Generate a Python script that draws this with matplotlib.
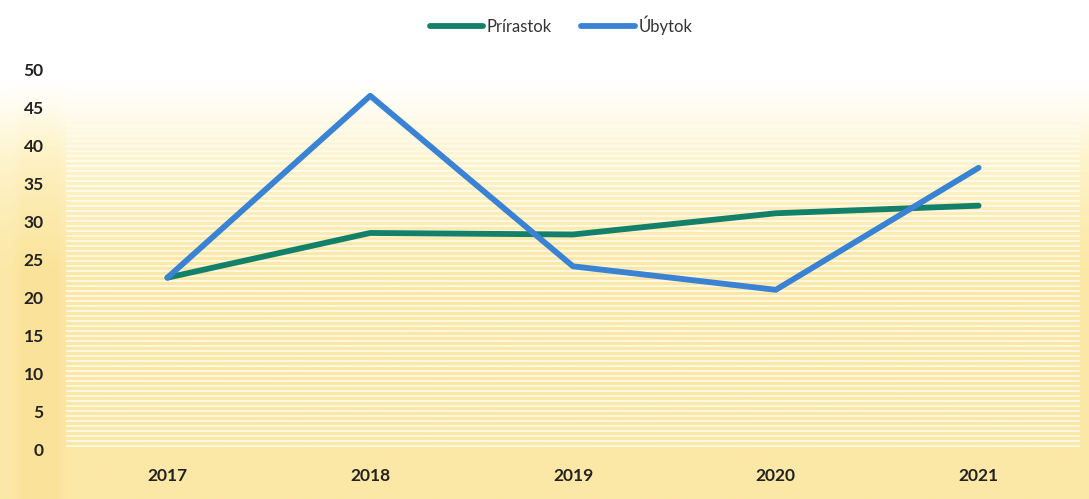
import numpy as np
import matplotlib
matplotlib.use("Agg")
import matplotlib.pyplot as plt
from matplotlib.colors import LinearSegmentedColormap

years = ["2017", "2018", "2019", "2020", "2021"]
prirastok = [22.6, 28.5, 28.3, 31.1, 32.1]
ubytok = [22.6, 46.6, 24.1, 21.0, 37.1]
yticks = [0, 5, 10, 15, 20, 25, 30, 35, 40, 45, 50]

plt.rcParams['font.family'] = ['Lato', 'DejaVu Sans']

W, H = 1089, 499
fig = plt.figure(figsize=(W / 100, H / 100), dpi=100)

# background gradient (decoration)
bg = fig.add_axes([0, 0, 1, 1], zorder=-10)
py = np.linspace(0, 1, 400)[:, None]   # 0 = top
px = np.linspace(0, 1, 600)[None, :]
white = np.clip((0.55 - py) / (0.55 - 0.16), 0, 1) ** 1.3
left = 0.12 * np.clip((0.062 - px) / 0.01, 0, 1) * np.clip((0.062 - px) > -1, 0, 1) \
    * np.clip((px - 0.01) / 0.01, 0, 1) * np.clip((py - 0.15) / 0.2, 0, 1)
v = np.clip(white - left + 0.25, 0, 1.25)
cmap = LinearSegmentedColormap.from_list("bgc", [(0, "#f8dc8e"), (0.2, "#fce8a6"), (0.6, "#fef4cc"), (0.85, "#fffcf0"), (1, "#ffffff")])
bg.imshow(v, cmap=cmap, origin="upper", aspect="auto", extent=[0, 1, 0, 1], vmin=0, vmax=1.25)
bg.set_xlim(0, 1)
bg.set_ylim(0, 1)
bg.axis("off")

ax = fig.add_axes([66 / W, 1 - 449 / H, (1080 - 66) / W, (449 - 70) / H])
ax.patch.set_alpha(0)
x = np.arange(len(years))

# white stripes (decoration)
for s in np.arange(0.4, 47, 0.66):
    a = 0.85 if s < 38 else 0.85 * (47 - s) / 9
    ax.axhline(s, color="white", lw=1.1, alpha=a, zorder=0)

ax.plot(x, prirastok, color="#13806a", lw=4.2, solid_capstyle="round", label="Prírastok", zorder=3)
ax.plot(x, ubytok, color="#3a82d4", lw=4.2, solid_capstyle="round", label="Úbytok", zorder=4)

ax.set_xlim(-0.5, len(years) - 0.5)
ax.set_ylim(0, 50)
ax.set_yticks(yticks)
ax.set_yticklabels([str(v) for v in yticks], fontsize=12.5, fontweight="bold", color="#222222")
ax.set_xticks(x)
ax.set_xticklabels(years, fontsize=12.5, fontweight="bold", color="#222222")
ax.tick_params(length=0)
ax.tick_params(axis="x", pad=14)
ax.tick_params(axis="y", pad=16)
for sp in ax.spines.values():
    sp.set_visible(False)

leg = fig.legend(loc="center", bbox_to_anchor=(0.515, 1 - 25 / H), ncol=2, frameon=False,
                 fontsize=12, handlelength=3.2, columnspacing=1.8, handletextpad=0.2)
for txt in leg.get_texts():
    txt.set_color("#333333")

fig.savefig("out.png", dpi=100)
